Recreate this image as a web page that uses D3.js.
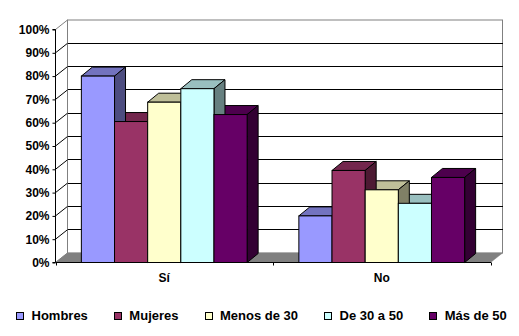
<!DOCTYPE html>
<html>
<head>
<meta charset="utf-8">
<script src="https://cdn.jsdelivr.net/npm/d3@7"></script>
<style>
  html, body { margin: 0; padding: 0; background: #fff; }
  svg { display: block; }
  text { font-family: Arial, "Liberation Sans", sans-serif; font-weight: bold; fill: #000; }
</style>
</head>
<body>
<svg id="chart" width="519" height="336"></svg>
<script>
// ---- data ----
const categories = ["Sí", "No"];
const seriesNames = ["Hombres", "Mujeres", "Menos de 30", "De 30 a 50", "Más de 50"];
const hombres  = [80.0, 20.0];
const mujeres  = [60.5, 39.5];
const menos30  = [68.8, 31.2];
const de30a50  = [74.6, 25.4];
const mas50    = [63.5, 36.5];
const yTickValues = [0, 10, 20, 30, 40, 50, 60, 70, 80, 90, 100];
const yTickLabels = ["0%", "10%", "20%", "30%", "40%", "50%", "60%", "70%", "80%", "90%", "100%"];
const seriesColors = ["#9999FF", "#993366", "#FFFFCC", "#CCFFFF", "#660066"];

const seriesValues = [hombres, mujeres, menos30, de30a50, mas50];

// ---- layout ----
const svg = d3.select("#chart");
const frontLeft = 55.5, frontRight = 490.5;
const wallDx = 12, wallDy = -9.5;   // depth of the walls
const barDx = 11, barDy = -9;       // depth of the bars

const x0 = d3.scaleBand().domain(categories).range([frontLeft, frontRight]).paddingInner(0).paddingOuter(0);
const x1 = d3.scaleBand().domain(seriesNames).range([0, x0.bandwidth()]).paddingInner(0).paddingOuter(0.78);
const y = d3.scaleLinear().domain([0, 100]).range([262.5, 29.5]);

function shade(c, k) {
  const r = d3.rgb(c);
  return d3.rgb(r.r * k, r.g * k, r.b * k).formatHex();
}

const gray = "#808080";

// back wall
svg.append("rect")
  .attr("x", frontLeft + wallDx).attr("y", y(100) + wallDy)
  .attr("width", frontRight - frontLeft).attr("height", y(0) - y(100))
  .attr("fill", "#fff").attr("stroke", gray).attr("stroke-width", 1);

// side wall (left)
svg.append("path")
  .attr("d", `M${frontLeft},${y(0)} L${frontLeft},${y(100)} L${frontLeft + wallDx},${y(100) + wallDy} L${frontLeft + wallDx},${y(0) + wallDy} Z`)
  .attr("fill", "#fff").attr("stroke", gray).attr("stroke-width", 1);

// gridlines on back and side walls
const grid = svg.append("g");
yTickValues.filter(v => v > 0 && v < 100).forEach(v => {
  grid.append("line")
    .attr("x1", frontLeft + wallDx).attr("x2", frontRight + wallDx)
    .attr("y1", y(v) + wallDy).attr("y2", y(v) + wallDy)
    .attr("stroke", "#000").attr("stroke-width", 1).attr("shape-rendering", "crispEdges");
  grid.append("line")
    .attr("x1", frontLeft).attr("x2", frontLeft + wallDx)
    .attr("y1", y(v)).attr("y2", y(v) + wallDy)
    .attr("stroke", "#000").attr("stroke-width", 1);
});

// floor
svg.append("path")
  .attr("d", `M${frontLeft},${y(0)} L${frontRight},${y(0)} L${frontRight + wallDx},${y(0) + wallDy} L${frontLeft + wallDx},${y(0) + wallDy} Z`)
  .attr("fill", gray).attr("stroke", gray).attr("stroke-width", 0.5);

// bars
const bars = [];
categories.forEach((c, ci) => {
  seriesNames.forEach((s, si) => {
    const v = seriesValues[si][ci];
    const xl = x0(c) + x1(s);
    const xr = xl + x1.bandwidth();
    bars.push({ c, s, si, v, xl, xr, yt: y(v), yb: y(0), color: seriesColors[si] });
  });
});

const barG = svg.append("g").attr("stroke", "#000").attr("stroke-width", 1).attr("stroke-linejoin", "miter");
// tops
barG.selectAll("path.top").data(bars).join("path").attr("class", "top")
  .attr("d", d => `M${d.xl},${d.yt} L${d.xl + barDx},${d.yt + barDy} L${d.xr + barDx},${d.yt + barDy} L${d.xr},${d.yt} Z`)
  .attr("fill", d => shade(d.color, 0.75));
// sides
barG.selectAll("path.side").data(bars).join("path").attr("class", "side")
  .attr("d", d => `M${d.xr},${d.yt} L${d.xr + barDx},${d.yt + barDy} L${d.xr + barDx},${d.yb + barDy} L${d.xr},${d.yb} Z`)
  .attr("fill", d => shade(d.color, 0.5));
// fronts
barG.selectAll("rect.front").data(bars).join("rect").attr("class", "front")
  .attr("x", d => d.xl).attr("y", d => d.yt)
  .attr("width", d => d.xr - d.xl).attr("height", d => d.yb - d.yt)
  .attr("fill", d => d.color);

// y axis (front)
const yAxis = d3.axisLeft(y).tickValues(yTickValues).tickSize(3).tickPadding(3)
  .tickFormat((d, i) => yTickLabels[i]);
const gy = svg.append("g").attr("transform", `translate(${frontLeft},0)`).call(yAxis);
gy.select(".domain").attr("stroke", "#000").attr("d", `M-3,${y(100)}H0V${y(0)}H-3`);
gy.selectAll(".tick line").attr("stroke", "#000");
gy.selectAll(".tick text").attr("font-size", "12px").attr("font-family", "Arial, 'Liberation Sans', sans-serif").attr("font-weight", "bold").attr("fill", "#000").attr("x", -6);

// x axis (front)
const gx = svg.append("g").attr("transform", `translate(0,${y(0)})`);
gx.append("line").attr("x1", frontLeft).attr("x2", frontRight).attr("y1", 0).attr("y2", 0)
  .attr("stroke", "#000").attr("shape-rendering", "crispEdges");
const catTicks = categories.map(c => x0(c)).concat([frontRight]);
gx.selectAll("line.ct").data(catTicks).join("line").attr("class", "ct")
  .attr("x1", d => Math.round(d) + 0.5).attr("x2", d => Math.round(d) + 0.5)
  .attr("y1", 0).attr("y2", 3).attr("stroke", "#000");
gx.selectAll("text").data(categories).join("text")
  .attr("x", d => x0(d) + x0.bandwidth() / 2).attr("y", 19.5)
  .attr("text-anchor", "middle").attr("font-size", "12px").text(d => d);

// legend
const legend = svg.append("g");
const items = legend.selectAll("g").data(seriesNames).join("g");
items.append("rect").attr("x", 0).attr("y", 312.5).attr("width", 7).attr("height", 7)
  .attr("fill", (d, i) => seriesColors[i]).attr("stroke", "#000").attr("shape-rendering", "crispEdges");
items.append("text").attr("x", 15).attr("y", 319.5).attr("font-size", "13px").text(d => d);
let cx = 0;
const offsets = [];
items.each(function () {
  offsets.push(cx);
  const w = d3.select(this).select("text").node().getComputedTextLength();
  cx += 15 + w + 26.5;
});
const total = cx - 26.5;
const start = Math.round(261 - total / 2) + 0.5;
items.attr("transform", (d, i) => `translate(${start + offsets[i]},0)`);
</script>
</body>
</html>
